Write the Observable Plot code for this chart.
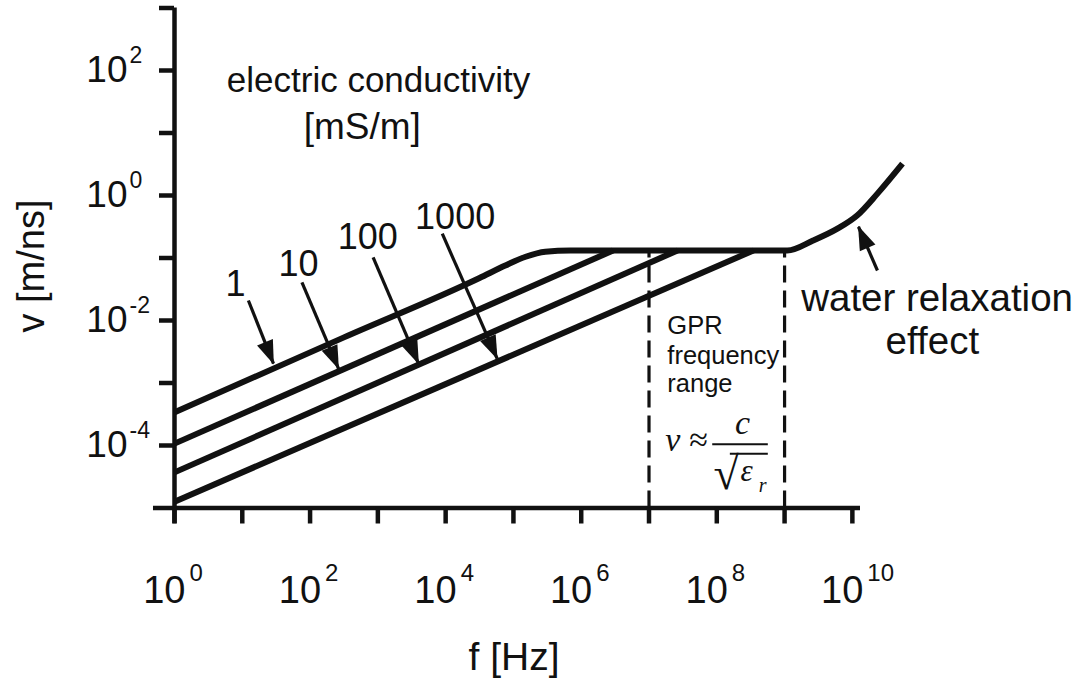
<!DOCTYPE html>
<html>
<head>
<meta charset="utf-8">
<script src="https://cdn.jsdelivr.net/npm/d3@7"></script>
<script src="https://cdn.jsdelivr.net/npm/@observablehq/plot@0.6"></script>
<style>
  html, body { margin: 0; padding: 0; background: #fff; }
  #chart { width: 1080px; height: 688px; }
</style>
</head>
<body>
<div id="chart"></div>
<script>
// ---------------- data ----------------
const conductivity = ["1", "10", "100", "1000"];            // mS/m
// velocity (m/ns) at f = 1 Hz for each conductivity
const vAt1Hz = [10 ** -3.47, 10 ** -3.97, 10 ** -4.43, 10 ** -4.90];
// frequency at which each low-frequency branch joins the plateau
const fJoin = [10 ** 5.42, 10 ** 6.47, 10 ** 7.42, 10 ** 8.54];
const plateauV = 10 ** -0.88;
// full curve for 1 mS/m, including knee, plateau and water relaxation rise
const curve1F = [1, 10 ** 2.5, 10 ** 4.5, 10 ** 4.88, 10 ** 5.18, 10 ** 5.47, 10 ** 5.84,
                 10 ** 9.04, 10 ** 9.42, 10 ** 9.78, 10 ** 10.07, 10 ** 10.37, 10 ** 10.74];
const curve1V = [10 ** -3.47, 10 ** -2.27, 10 ** -1.32, 10 ** -1.12, 10 ** -0.98, 10 ** -0.90, 10 ** -0.88,
                 10 ** -0.88, 10 ** -0.72, 10 ** -0.53, 10 ** -0.32, 10 ** 0.03, 10 ** 0.51];
const gprRange = [1e7, 1e9];

// axis ticks (exponents)
const xTickExp = [0, 1, 2, 3, 4, 5, 6, 7, 8, 9, 10];
const xLabelExp = [0, 2, 4, 6, 8, 10];
const yTickExp = [-4, -3, -2, -1, 0, 1, 2, 3];
const yLabelExp = [-4, -2, 0, 2];

// annotation arrows (log10 f, log10 v): tail -> tip
const labelText = ["1", "10", "100", "1000"];
const labelPosF = [0.90, 1.83, 2.85, 4.14];
const labelPosV = [-1.60, -1.28, -0.85, -0.53];
const arrowTailF = [1.09, 1.88, 2.93, 3.95, 10.37];
const arrowTailV = [-1.68, -1.39, -0.99, -0.61, -1.20];
const arrowTipF  = [1.46, 2.42, 3.60, 4.76, 10.09];
const arrowTipV  = [-2.69, -2.77, -2.69, -2.61, -0.50];

// ---------------- build tables ----------------
const lineRows = [];
curve1F.forEach((f, i) => lineRows.push({s: conductivity[0], f, v: curve1V[i]}));
for (let i = 1; i < conductivity.length; i++) {
  lineRows.push({s: conductivity[i], f: 1, v: vAt1Hz[i]});
  lineRows.push({s: conductivity[i], f: fJoin[i], v: plateauV});
}
const arrows = arrowTailF.map((_, i) => ({
  x1: 10 ** arrowTailF[i], y1: 10 ** arrowTailV[i],
  x2: 10 ** arrowTipF[i], y2: 10 ** arrowTipV[i]
}));
const labels = labelText.map((t, i) => ({t, f: 10 ** labelPosF[i], v: 10 ** labelPosV[i]}));

const INK = "#111";
const SANS = "Liberation Sans, Arial, sans-serif";
const SERIF = "Liberation Serif, Times New Roman, serif";

function filledArrow(color, context) {
  const m = d3.create("svg:marker")
    .attr("viewBox", "-24 -9 25 18")
    .attr("markerWidth", 25).attr("markerHeight", 18)
    .attr("markerUnits", "userSpaceOnUse")
    .attr("orient", "auto")
    .attr("refX", 0).attr("refY", 0)
    .attr("fill", INK).attr("stroke", "none");
  m.append("path").attr("d", "M-23,-8.5L1,0L-23,8.5Z");
  return m.node();
}

const chart = Plot.plot({
  width: 1080,
  height: 688,
  marginLeft: 174,
  marginRight: 220,
  marginTop: 7.5,
  marginBottom: 180.5,
  style: {fontFamily: SANS, background: "#fff", color: INK},
  x: {type: "log", domain: [1, 10 ** 10.12]},
  y: {type: "log", domain: [1e-5, 1e3]},
  marks: [
    // axis lines (crossing at the origin)
    Plot.ruleY([1e-5], {x1: 10 ** -0.31, x2: 10 ** 10.12, stroke: INK, strokeWidth: 4.5}),
    Plot.ruleX([1], {y1: 10 ** -5.25, y2: 1e3, stroke: INK, strokeWidth: 4.5}),
    // ticks
    Plot.axisX(xTickExp.map(e => 10 ** e), {tickSize: 16, strokeWidth: 4.5, stroke: INK, tickFormat: () => "", label: null}),
    Plot.axisY(yTickExp.map(e => 10 ** e), {tickSize: 15, strokeWidth: 4.5, stroke: INK, tickFormat: () => "", label: null}),
    // x tick labels 10^n
    Plot.text(xLabelExp, {x: d => 10 ** d, frameAnchor: "bottom", text: () => "10", textAnchor: "end",
      lineAnchor: "bottom", dx: 11, dy: 95, fontSize: 38, fill: INK}),
    Plot.text(xLabelExp, {x: d => 10 ** d, frameAnchor: "bottom", text: d => String(d), textAnchor: "start",
      lineAnchor: "bottom", dx: 15, dy: 73, fontSize: 24, fill: INK}),
    // y tick labels 10^n
    Plot.text(yLabelExp, {y: d => 10 ** d, frameAnchor: "left", text: () => "10", textAnchor: "end",
      lineAnchor: "middle", dx: -47, dy: 0, fontSize: 37, fill: INK}),
    Plot.text(yLabelExp, {y: d => 10 ** d, frameAnchor: "left", text: d => (d < 0 ? "-" + (-d) : String(d)), textAnchor: "start",
      lineAnchor: "bottom", dx: -45, dy: -8, fontSize: 23, fill: INK}),
    // axis titles
    Plot.text(["f [Hz]"], {x: 10 ** 5.01, frameAnchor: "bottom", text: d => d, lineAnchor: "bottom",
      dy: 162, fontSize: 39, fill: INK}),
    Plot.text(["v [m/ns]"], {frameAnchor: "left", text: d => d, rotate: -90, lineAnchor: "bottom",
      textAnchor: "middle", dx: -131, dy: 8, fontSize: 38, fill: INK}),
    // GPR range dashed lines
    Plot.ruleX(gprRange, {y1: 1e-5, y2: plateauV, stroke: INK, strokeWidth: 3.2, strokeDasharray: "17,8"}),
    // velocity curves
    Plot.line(lineRows, {x: "f", y: "v", z: "s", curve: "monotone-x", stroke: INK, strokeWidth: 6,
      strokeLinecap: "butt", strokeLinejoin: "round"}),
    // arrows
    Plot.link(arrows, {x1: "x1", y1: "y1", x2: "x2", y2: "y2", stroke: INK, strokeWidth: 3.2, markerEnd: filledArrow}),
    // conductivity labels
    Plot.text(labels, {x: "f", y: "v", text: "t", lineAnchor: "bottom", fontSize: 36, fill: INK}),
    // legend title
    Plot.text(["electric conductivity"], {x: 10 ** 3.01, y: 10 ** 1.65, text: d => d, lineAnchor: "bottom", fontSize: 35, fill: INK}),
    Plot.text(["[mS/m]"], {x: 10 ** 2.77, y: 10 ** 0.91, text: d => d, lineAnchor: "bottom", fontSize: 37, fill: INK}),
    // water relaxation
    Plot.text(["water relaxation"], {x: 10 ** 11.25, y: 10 ** -1.84, text: d => d, lineAnchor: "bottom", fontSize: 38.5, fill: INK}),
    Plot.text(["effect"], {x: 10 ** 11.18, y: 10 ** -2.53, text: d => d, lineAnchor: "bottom", fontSize: 38.5, fill: INK}),
    // GPR frequency range text
    Plot.text(["GPR", "frequency", "range"], {x: 10 ** 7.27, y: (d, i) => 10 ** [-2.21, -2.69, -3.15][i], text: d => d,
      textAnchor: "start", lineAnchor: "bottom", fontSize: 25.5, fill: INK}),
    // formula v ≈ c / sqrt(eps_r)
    Plot.text(["ν ≈"], {x: 10 ** 7.24, y: 10 ** -4.08, text: d => d, textAnchor: "start", lineAnchor: "bottom",
      fontFamily: SERIF, fontStyle: "italic", fontSize: 34, fill: INK}),
    Plot.text(["c"], {x: 10 ** 8.38, y: 10 ** -3.81, text: d => d, lineAnchor: "bottom",
      fontFamily: SERIF, fontStyle: "italic", fontSize: 34, fill: INK}),
    Plot.ruleY([10 ** -3.98], {x1: 10 ** 7.94, x2: 10 ** 8.76, stroke: INK, strokeWidth: 2.2}),
    Plot.text(["√"], {x: 10 ** 7.95, y: 10 ** -4.70, text: d => d, textAnchor: "start", lineAnchor: "bottom",
      fontFamily: SERIF, fontSize: 46, fill: INK}),
    Plot.ruleY([10 ** -4.13], {x1: 10 ** 8.2, x2: 10 ** 8.76, stroke: INK, strokeWidth: 2}),
    Plot.text(["ε"], {x: 10 ** 8.35, y: 10 ** -4.56, text: d => d, textAnchor: "start", lineAnchor: "bottom",
      fontFamily: SERIF, fontStyle: "italic", fontSize: 31, fill: INK}),
    Plot.text(["r"], {x: 10 ** 8.62, y: 10 ** -4.75, text: d => d, textAnchor: "start", lineAnchor: "bottom",
      fontFamily: SERIF, fontStyle: "italic", fontSize: 20, fill: INK})
  ]
});
document.getElementById("chart").appendChild(chart);
</script>
</body>
</html>
